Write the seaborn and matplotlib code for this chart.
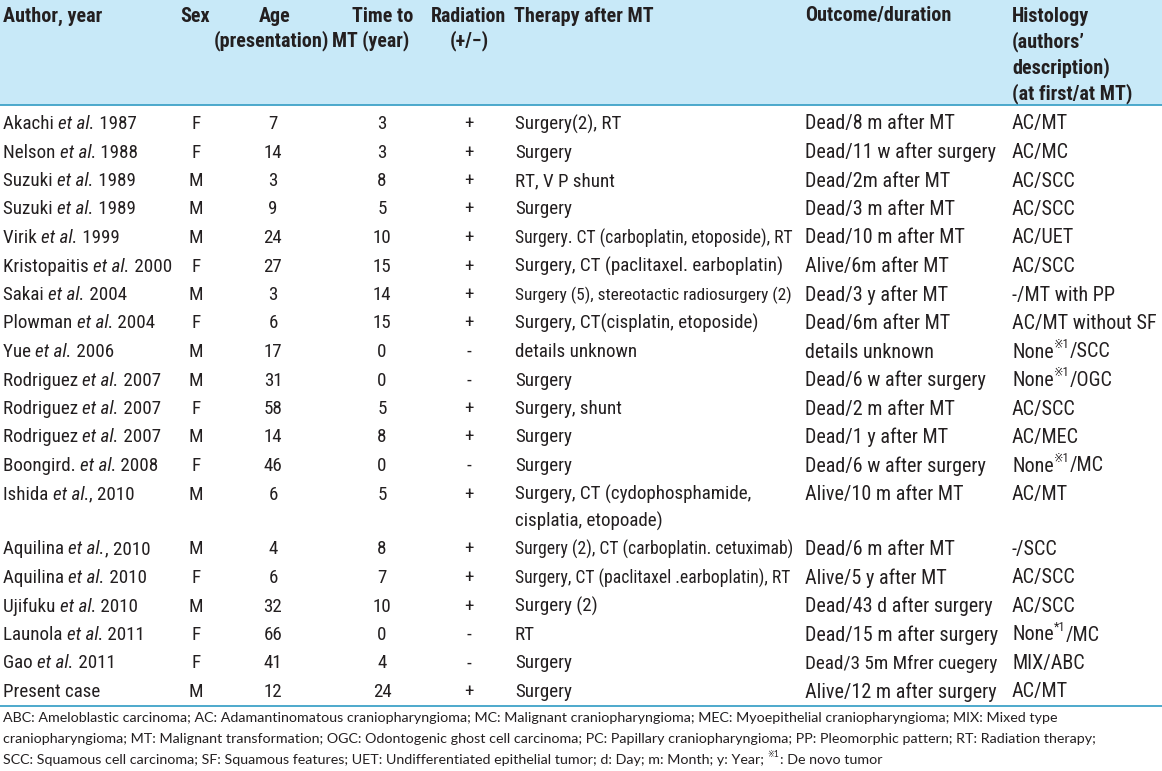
import re
import matplotlib
matplotlib.use("Agg")
import matplotlib.pyplot as plt
from matplotlib import font_manager
import seaborn as sns

# table data
authors = ["Akachi", "Nelson", "Suzuki", "Suzuki", "Virik", "Kristopaitis", "Sakai",
           "Plowman", "Yue", "Rodriguez", "Rodriguez", "Rodriguez", "Boongird.", "Ishida",
           "Aquilina", "Aquilina", "Ujifuku", "Launola", "Gao", "Present case"]
years = [" 1987", " 1988", " 1989", " 1989", " 1999", " 2000", " 2004", " 2004", " 2006",
         " 2007", " 2007", " 2007", " 2008", ", 2010", ", 2010", " 2010", " 2010", " 2011",
         " 2011", ""]
sex = ["F", "F", "M", "M", "M", "F", "M", "F", "M", "M", "F", "M", "F", "M", "M", "F",
       "M", "F", "F", "M"]
age = [7, 14, 3, 9, 24, 27, 3, 6, 17, 31, 58, 14, 46, 6, 4, 6, 32, 66, 41, 12]
time_to_mt = [3, 3, 8, 5, 10, 15, 14, 15, 0, 0, 5, 8, 0, 5, 8, 7, 10, 0, 4, 24]
radiation = ["+", "+", "+", "+", "+", "+", "+", "+", "-", "-", "+", "+", "-", "+", "+",
             "+", "+", "-", "-", "+"]
therapy = ["Surgery(2), RT", "Surgery", "RT, V P shunt", "Surgery",
           "Surgery. CT (carboplatin, etoposide), RT",
           "Surgery, CT (paclitaxel. earboplatin)",
           "Surgery (5), stereotactic radiosurgery (2)",
           "Surgery, CT(cisplatin, etoposide)", "details unknown", "Surgery",
           "Surgery, shunt", "Surgery", "Surgery",
           "Surgery, CT (cydophosphamide,\ncisplatia, etopoade)",
           "Surgery (2), CT (carboplatin. cetuximab)",
           "Surgery, CT (paclitaxel .earboplatin), RT", "Surgery (2)", "RT", "Surgery",
           "Surgery"]
outcome = ["Dead/8 m after MT", "Dead/11 w after surgery", "Dead/2m after MT",
           "Dead/3 m after MT", "Dead/10 m after MT", "Alive/6m after MT",
           "Dead/3 y after MT", "Dead/6m after MT", "details unknown",
           "Dead/6 w after surgery", "Dead/2 m after MT", "Dead/1 y after MT",
           "Dead/6 w after surgery", "Alive/10 m after MT", "Dead/6 m after MT",
           "Alive/5 y after MT", "Dead/43 d after surgery", "Dead/15 m after surgery",
           "Dead/3 5m Mfrer cuegery", "Alive/12 m after surgery"]
histology = ["AC/MT", "AC/MC", "AC/SCC", "AC/SCC", "AC/UET", "AC/SCC", "-/MT with PP",
             "AC/MT without SF", "None[※1]/SCC", "None[※1]/OGC", "AC/SCC", "AC/MEC",
             "None[※1]/MC", "AC/MT", "-/SCC", "AC/SCC", "AC/SCC", "None[*1]/MC",
             "MIX/ABC", "AC/MT"]
footnote = [
    "ABC: Ameloblastic carcinoma; AC: Adamantinomatous craniopharyngioma; MC: Malignant craniopharyngioma; MEC: Myoepithelial craniopharyngioma; MIX: Mixed type",
    "craniopharyngioma; MT: Malignant transformation; OGC: Odontogenic ghost cell carcinoma; PC: Papillary craniopharyngioma; PP: Pleomorphic pattern; RT: Radiation therapy;",
    "SCC: Squamous cell carcinoma; SF: Squamous features; UET: Undifferentiated epithelial tumor; d: Day; m: Month; y: Year; [※1]: De novo tumor",
]

sns.set_theme(style="white")

# look for a narrow/condensed face, the reference uses a condensed grotesque
body, stretch = "Liberation Sans", "normal"
narrow = []
for f in font_manager.fontManager.ttflist:
    st = str(f.stretch)
    if ("Narrow" in f.name or "Condensed" in f.name or "condensed" in st
            or (st.isdigit() and int(st) < 500)):
        narrow.append(f)
for pref in ["Liberation Sans Narrow", "Roboto Condensed", "DejaVu Sans", "Noto Sans",
             "Open Sans", ""]:
    hit = [f for f in narrow if pref in f.name]
    if hit:
        body, stretch = hit[0].name, hit[0].stretch
        break
plt.rcParams["font.family"] = [body, "DejaVu Sans"]
plt.rcParams["font.stretch"] = stretch

text_col = "#231f20"
fig = plt.figure(figsize=(11.62, 7.71), dpi=100)
ax = fig.add_axes([0, 0, 1, 1])
ax.set_xlim(0, 1162)
ax.set_ylim(771, 0)
ax.axis("off")
renderer = fig.canvas.get_renderer()

ax.axhspan(0, 105, color="#c8e9f8", lw=0)
ax.axhline(105, color="#3fa3c8", lw=1.3)
ax.axhline(706, color="#3fa3c8", lw=1.3)


def pieces(x, y, parts, size=13.7, family=None, maxw=None, weight="normal", ha="left"):
    # draw text pieces side by side: (text, style) with style n / i (italic) / s (superscript)
    fam = family or [body, "DejaVu Sans"]
    while True:
        arts, cx = [], 0
        for txt, st in parts:
            fs = size * 0.62 if st == "s" else size
            dy = -size * 0.55 if st == "s" else 0
            t = ax.text(x + cx, y + dy, txt, fontsize=fs, va="center", ha="left",
                        style="italic" if st == "i" else "normal", fontweight=weight,
                        family=fam, color=text_col)
            cx += t.get_window_extent(renderer).width
            arts.append(t)
        if maxw is None or cx <= maxw or size < 7:
            break
        for t in arts:
            t.remove()
        size -= 0.25
    if ha == "center":
        for t in arts:
            t.set_x(t.get_position()[0] - cx / 2)


def split_sup(s):
    out = []
    for k, part in enumerate(re.split(r"\[|\]", s)):
        if part:
            out.append((part, "s" if k % 2 else "n"))
    return out


# header
H = dict(size=14.5, weight="bold")
pieces(3, 16, [("Author, year", "n")], **H)
pieces(195, 16, [("Sex", "n")], ha="center", **H)
pieces(275, 16, [("Age", "n")], ha="center", **H)
pieces(271, 41, [("(presentation)", "n")], ha="center", maxw=116, **H)
pieces(383, 16, [("Time to", "n")], ha="center", **H)
pieces(371, 41, [("MT (year)", "n")], ha="center", maxw=78, **H)
pieces(469, 16, [("Radiation", "n")], ha="center", maxw=76, **H)
pieces(469, 41, [("(+/−)", "n")], ha="center", **H)
pieces(514, 16, [("Therapy after MT", "n")], **H)
pieces(805, 16, [("Outcome/duration", "n")], maxw=150, **H)
for k, line in enumerate(["Histology", "(authors’", "description)", "(at first/at MT)"]):
    pieces(1012, 16 + 26 * k, [(line, "n")], maxw=140, **H)

# rows
y = 124
for i in range(len(authors)):
    if authors[i] == "Present case":
        pieces(3, y, [("Present case", "n")])
    else:
        pieces(3, y, [(authors[i] + " ", "n"), ("et al.", "i"), (years[i], "n")], maxw=172)
    pieces(196, y, [(sex[i], "n")], ha="center")
    pieces(273, y, [(str(age[i]), "n")], ha="center")
    pieces(382, y, [(str(time_to_mt[i]), "n")], ha="center")
    pieces(469, y, [(radiation[i], "n")], ha="center")
    lines = therapy[i].split("\n")
    for k, line in enumerate(lines):
        pieces(515, y + 27 * k, [(line, "n")], size=13.7, maxw=280)
    pieces(805, y, [(outcome[i], "n")], size=14.5, maxw=195)
    pieces(1012, y, split_sup(histology[i]), size=14.5, maxw=148)
    y += 28.5 + 26.5 * (len(lines) - 1)

# footnote
for k, line in enumerate(footnote):
    pieces(3, 718 + 21 * k, split_sup(line), size=10.3, family=["Lato", "DejaVu Sans"],
           maxw=1150)

fig.savefig("out.png", dpi=100)
